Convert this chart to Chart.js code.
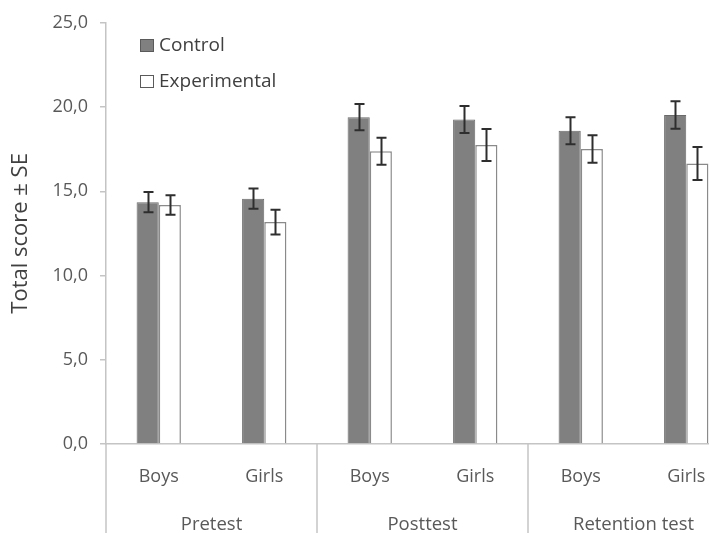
<!DOCTYPE html>
<html>
<head>
<meta charset="utf-8">
<script src="https://cdn.jsdelivr.net/npm/chart.js@4/dist/chart.umd.min.js"></script>
<style>
  html, body { margin: 0; padding: 0; background: #fff; overflow: hidden; width: 709px; height: 533px; }
  canvas { display: block; }
</style>
</head>
<body>
<canvas id="c" width="740" height="533"></canvas>
<script>
const categories = ['Boys', 'Girls', 'Boys', 'Girls', 'Boys', 'Girls'];
const groups = ['Pretest', 'Posttest', 'Retention test'];
const seriesNames = ['Control', 'Experimental'];
const controlValues = [14.35, 14.56, 19.4, 19.26, 18.59, 19.53];
const controlSE = [0.6, 0.6, 0.78, 0.8, 0.8, 0.82];
const experimentalValues = [14.19, 13.17, 17.38, 17.75, 17.51, 16.65];
const experimentalSE = [0.58, 0.73, 0.8, 0.95, 0.82, 0.98];
const yTicks = [0, 5, 10, 15, 20, 25];

const FONT = "'Open Sans', sans-serif";
const TEXT = '#595959';
const AXIS = '#c4c4c4';

const errorBars = {
  id: 'errorBars',
  afterDatasetsDraw(chart) {
    const ctx = chart.ctx;
    const y = chart.scales.y;
    ctx.save();
    ctx.strokeStyle = '#2e2e2e';
    ctx.lineWidth = 2;
    chart.data.datasets.forEach((ds, di) => {
      const meta = chart.getDatasetMeta(di);
      meta.data.forEach((bar, i) => {
        const v = ds.data[i], se = ds.se[i];
        const x = Math.round(bar.x) + 0.5;
        const yt = y.getPixelForValue(v + se);
        const yb = y.getPixelForValue(v - se);
        ctx.beginPath();
        ctx.moveTo(x, yt); ctx.lineTo(x, yb);
        ctx.moveTo(x - 5, yt); ctx.lineTo(x + 5, yt);
        ctx.moveTo(x - 5, yb); ctx.lineTo(x + 5, yb);
        ctx.stroke();
      });
    });
    ctx.restore();
  }
};

const groupAxis = {
  id: 'groupAxis',
  afterDraw(chart) {
    const ctx = chart.ctx;
    const x = chart.scales.x;
    const area = chart.chartArea;
    const H = chart.height;
    const step = x.getPixelForValue(1) - x.getPixelForValue(0);
    ctx.save();
    ctx.strokeStyle = AXIS;
    ctx.lineWidth = 1.5;
    for (let g = 0; g <= groups.length; g++) {
      const px = Math.round(x.getPixelForValue(g * 2) - step / 2);
      ctx.beginPath();
      ctx.moveTo(px, area.bottom);
      ctx.lineTo(px, H);
      ctx.stroke();
    }
    ctx.fillStyle = TEXT;
    ctx.font = "18.5px " + FONT;
    ctx.textAlign = 'center';
    ctx.textBaseline = 'middle';
    groups.forEach((g, i) => {
      const cx = (x.getPixelForValue(i * 2) + x.getPixelForValue(i * 2 + 1)) / 2;
      ctx.fillText(g, cx, 525);
    });
    ctx.restore();
  }
};

const legendPlugin = {
  id: 'customLegend',
  afterDraw(chart) {
    const ctx = chart.ctx;
    ctx.save();
    ctx.font = "19px " + FONT;
    ctx.textBaseline = 'middle';
    ctx.textAlign = 'left';
    chart.data.datasets.forEach((ds, i) => {
      const cy = 45.5 + i * 36;
      ctx.fillStyle = ds.backgroundColor;
      ctx.fillRect(140.5, cy - 6, 13, 12);
      ctx.strokeStyle = '#5a5a5a';
      ctx.lineWidth = 1;
      ctx.strokeRect(140.5, cy - 6, 13, 12);
      ctx.fillStyle = '#404040';
      ctx.fillText(ds.label, 159, cy);
    });
    ctx.restore();
  }
};

new Chart(document.getElementById('c'), {
  type: 'bar',
  data: {
    labels: categories,
    datasets: [
      { label: seriesNames[0], data: controlValues, se: controlSE,
        backgroundColor: '#808080', borderColor: '#6a6a6a', borderWidth: 1 },
      { label: seriesNames[1], data: experimentalValues, se: experimentalSE,
        backgroundColor: '#ffffff', borderColor: '#8a8a8a', borderWidth: 1.5 }
    ]
  },
  options: {
    responsive: false,
    animation: false,
    devicePixelRatio: 1,
    layout: { padding: { top: 20, right: 1, left: 0, bottom: 0 } },
    categoryPercentage: 0.42,
    barPercentage: 1.0,
    plugins: { legend: { display: false }, tooltip: { enabled: false } },
    scales: {
      x: {
        afterFit(s) { s.height = 89; },
        grid: { display: true, drawOnChartArea: false, drawTicks: false },
        border: { display: true, color: AXIS, width: 1.5 },
        ticks: { color: TEXT, font: { family: FONT, size: 18 }, padding: 22, maxRotation: 0 }
      },
      y: {
        min: 0, max: 25,
        afterFit(s) { s.width = 106; },
        afterBuildTicks(s) { s.ticks = yTicks.map(v => ({ value: v })); },
        grid: { display: true, drawOnChartArea: false, drawTicks: true, tickLength: 6, color: AXIS, lineWidth: 1.5 },
        border: { display: true, color: AXIS, width: 1.5 },
        ticks: { color: TEXT, font: { family: FONT, size: 18 }, padding: 12,
                 callback: (v) => v.toFixed(1).replace('.', ',') },
        title: { display: true, text: 'Total score ± SE', color: '#404040',
                 font: { family: FONT, size: 22 }, padding: { top: 8, bottom: 0 } }
      }
    }
  },
  plugins: [errorBars, groupAxis, legendPlugin]
});
</script>
</body>
</html>
